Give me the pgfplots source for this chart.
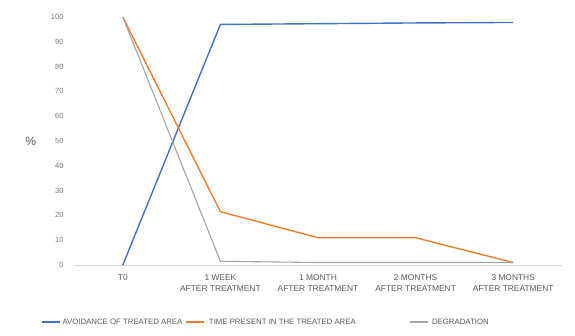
\documentclass[border=0pt]{standalone}
\usepackage{pgfplots}
\pgfplotsset{compat=1.18}
\usepackage{fontspec}
\setmainfont{Liberation Sans}
\definecolor{cblue}{HTML}{4472C4}
\definecolor{corange}{HTML}{ED7D31}
\definecolor{cgray}{HTML}{A5A5A5}
\definecolor{ctext}{HTML}{595959}
\begin{document}
\begin{tikzpicture}
\path[use as bounding box] (0pt,0pt) rectangle (575pt,335pt);
\begin{axis}[
  at={(74pt,70pt)}, anchor=south west,
  scale only axis, width=488pt, height=248pt,
  xmin=-0.5, xmax=4.5, ymin=0, ymax=100,
  xtick={0,1,2,3,4},
  xticklabels={T0, 1 WEEK\\AFTER TREATMENT, 1 MONTH\\AFTER TREATMENT, 2 MONTHS\\AFTER TREATMENT, 3 MONTHS\\AFTER TREATMENT},
  xticklabel style={align=center, font=\fontsize{8.4}{11}\selectfont, text=ctext, yshift=-6pt},
  ytick={0,10,...,100},
  yticklabel style={font=\fontsize{7.5}{8}\selectfont, text=ctext!80, xshift=-7pt},
  /pgf/number format/assume math mode=true,
  axis line style={draw=none},
  major tick length=0pt,
  ylabel={\%}, ylabel style={font=\fontsize{12}{13}\selectfont, text=ctext, rotate=-90},
  ylabel shift=8pt,
  extra y ticks={0}, extra y tick style={grid=major, grid style={black!15, line width=0.8pt}, yticklabels={}},
  legend columns=3,
  legend cell align=left,
  legend style={draw=none, fill=none, font=\fontsize{7.8}{9}\selectfont, text=ctext,
    at={(-0.0738,-0.23)}, anchor=west,
    /tikz/every even column/.append style={column sep=0pt}},
  legend image code/.code={\draw[#1] (0pt,0pt) -- (18pt,0pt);},
  clip=false,
]
\addplot[cblue, line width=1.4pt] coordinates {(0,0) (1,97) (2,97.3) (3,97.6) (4,97.8)};
\addlegendentry{\makebox[121pt][l]{AVOIDANCE OF TREATED AREA}}
\addplot[corange, line width=1.4pt] coordinates {(0,100) (1,21.5) (2,11) (3,11) (4,1)};
\addlegendentry{\makebox[200pt][l]{\hspace{2pt}TIME PRESENT IN THE TREATED AREA}}
\addplot[cgray, line width=1.1pt] coordinates {(0,100) (1,1.5) (2,1) (3,1) (4,1)};
\addlegendentry{\hspace{2pt}DEGRADATION}
\end{axis}
\end{tikzpicture}
\end{document}
